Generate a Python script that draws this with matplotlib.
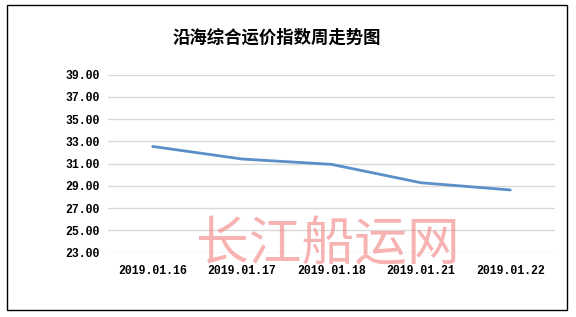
import matplotlib
matplotlib.use("Agg")
import matplotlib.pyplot as plt
from matplotlib.patches import Rectangle

plt.rcParams['font.family'] = ['Noto Sans CJK SC', 'DejaVu Sans']

title = "沿海综合运价指数周走势图"
dates = ["2019.01.16", "2019.01.17", "2019.01.18", "2019.01.21", "2019.01.22"]
values = [32.55, 31.42, 30.94, 29.29, 28.64]
yticks = [23, 25, 27, 29, 31, 33, 35, 37, 39]
watermark = "长江船运网"

W, H = 576, 317
fig = plt.figure(figsize=(W / 100, H / 100), dpi=100)
fig.patch.set_facecolor("white")

# outer frame
fig.add_artist(Rectangle((7 / W, 1 - 310 / H), (567 - 7) / W, (310 - 5) / H,
                         transform=fig.transFigure, fill=False,
                         edgecolor="black", linewidth=1.0))

ax = fig.add_axes([108 / W, 1 - 252.7 / H, (555 - 108) / W, (252.7 - 74.7) / H])
x = list(range(len(dates)))
ax.plot(x, values, color="#5b8fc9", linewidth=2.0, solid_capstyle="round")
ax.set_xlim(-0.5, len(dates) - 0.5)
ax.set_ylim(23, 39)
ax.set_yticks(yticks)
tick_font = dict(fontsize=8.3, fontweight="bold", family="Liberation Mono")
ax.set_yticklabels([f"{v:.2f}" for v in yticks], **tick_font)
ax.set_xticks(x)
ax.set_xticklabels(dates, **tick_font)
ax.tick_params(axis="both", length=0)
ax.tick_params(axis="y", pad=6)
ax.tick_params(axis="x", pad=9)
ax.grid(axis="y", color="#d9d9d9", linewidth=1.0)
ax.set_axisbelow(True)
for s in ax.spines.values():
    s.set_visible(False)

fig.text(277 / W, 1 - 38 / H, title, ha="center", va="center", fontsize=12.5,
         fontweight="bold")

fig.text(328 / W, 1 - 245 / H, watermark, ha="center", va="center",
         fontsize=38, color="#f28080", alpha=0.6, fontweight="light")

fig.savefig("out.png", dpi=100, facecolor="white")
